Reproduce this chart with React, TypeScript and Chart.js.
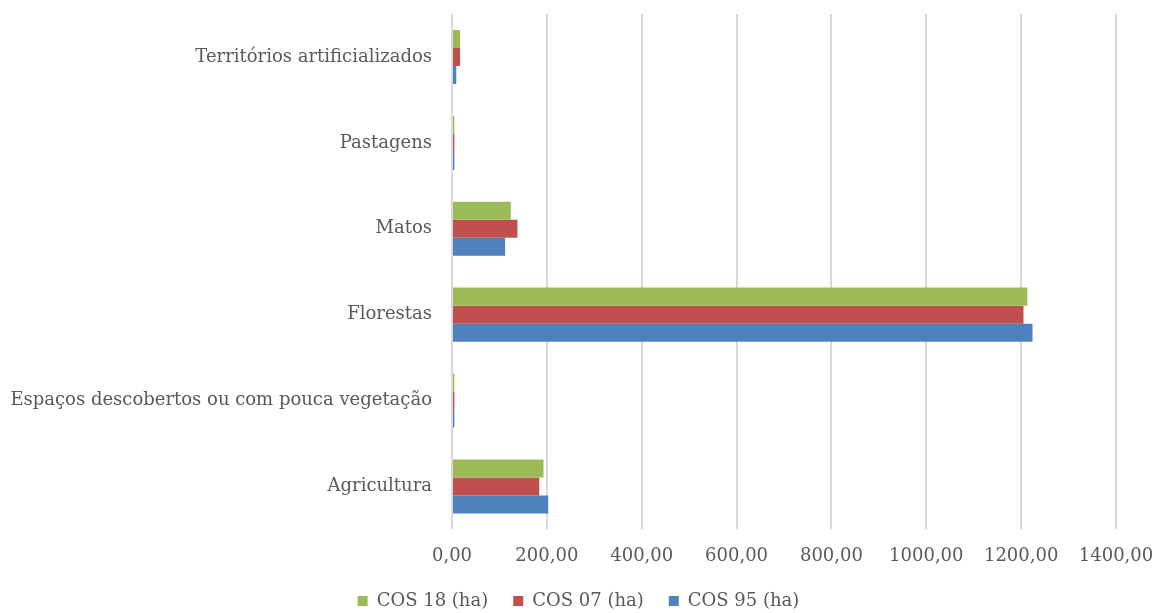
import React, { useEffect, useRef } from "react";
import { Chart, registerables } from "chart.js";

Chart.register(...registerables);

const categories = [
  "Territórios artificializados",
  "Pastagens",
  "Matos",
  "Florestas",
  "Espaços descobertos ou com pouca vegetação",
  "Agricultura",
];
const seriesNames = ["COS 18 (ha)", "COS 07 (ha)", "COS 95 (ha)"];
const cos18 = [17, 5, 124, 1213, 5, 193];
const cos07 = [17, 5, 138, 1205, 5, 184];
const cos95 = [9, 5, 112, 1224, 5, 203];
const xMin = 0;
const xMax = 1400;
const xStep = 200;

const FONT = "'DejaVu Serif', serif";
const TEXT = "#595959";

export default function App() {
  const ref = useRef<HTMLCanvasElement>(null);
  useEffect(() => {
    if (!ref.current) return;
    const chart = new Chart(ref.current, {
      type: "bar",
      data: {
        labels: categories,
        datasets: [
          { label: seriesNames[0], data: cos18, backgroundColor: "#9BBB59" },
          { label: seriesNames[1], data: cos07, backgroundColor: "#C0504D" },
          { label: seriesNames[2], data: cos95, backgroundColor: "#4F81BD" },
        ],
      },
      options: {
        indexAxis: "y",
        animation: false,
        responsive: false,
        maintainAspectRatio: false,
        layout: { padding: { top: 14, left: 0, right: 0, bottom: -7 } },
        datasets: {
          bar: { categoryPercentage: 0.63, barPercentage: 1 },
        },
        plugins: {
          tooltip: { enabled: false },
          legend: {
            position: "bottom",
            labels: {
              color: TEXT,
              font: { family: FONT, size: 18 },
              boxWidth: 10,
              boxHeight: 10,
              padding: 25,
            },
          },
        },
        scales: {
          x: {
            min: xMin,
            max: xMax,
            ticks: {
              stepSize: xStep,
              color: TEXT,
              font: { family: FONT, size: 18 },
              padding: 16,
              maxRotation: 0,
              callback: (v: any) => Number(v).toFixed(2).replace(".", ","),
            },
            grid: { color: "#d9d9d9", lineWidth: 2, drawTicks: false },
            border: { display: false },
            afterFit: (s: any) => {
              s.height = s.height - 16;
              s.paddingRight = 41;
              s.paddingLeft = 0;
            },
          },
          y: {
            ticks: {
              color: TEXT,
              font: { family: FONT, size: 18 },
              padding: 12,
            },
            grid: { display: false },
            border: { display: false },
            afterFit: (s: any) => {
              s.width = 452;
              s.paddingTop = 0;
              s.paddingBottom = 0;
            },
          },
        },
      },
    });
    return () => chart.destroy();
  }, []);
  return (
    <div style={{ position: "fixed", left: 0, top: 0, width: 1157, height: 613, background: "#fff" }}>
      <canvas ref={ref} width={1157} height={613} style={{ width: 1157, height: 613 }} />
    </div>
  );
}
